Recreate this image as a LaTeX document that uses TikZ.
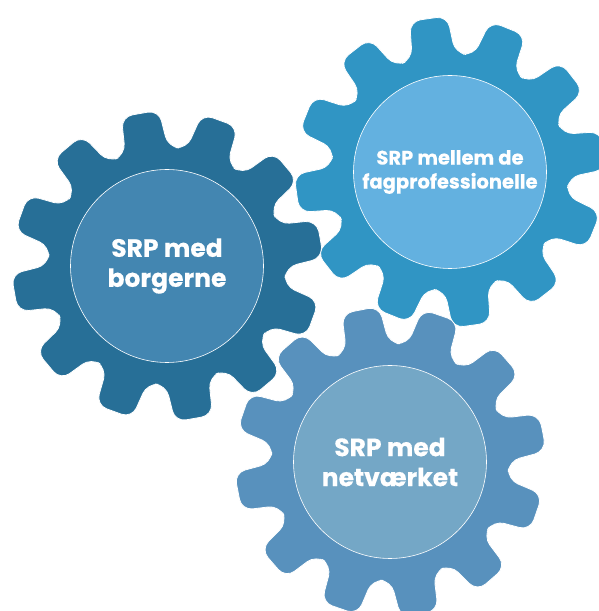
\documentclass[tikz,border=0pt]{standalone}
\usepackage{fontspec}
\setmainfont{Poppins}[BoldFeatures={FakeBold=0.4}]
\usetikzlibrary{positioning}
\definecolor{gearborger}{RGB}{39,111,151}
\definecolor{coreborger}{RGB}{67,134,177}
\definecolor{gearfag}{RGB}{48,149,196}
\definecolor{corefag}{RGB}{99,177,224}
\definecolor{gearnet}{RGB}{88,145,189}
\definecolor{corenet}{RGB}{116,167,198}

% gear with 12 teeth: centre x, centre y, tooth offset, colour
\newcommand{\gearwheel}[4]{%
  \fill[#4, draw=white, line width=0.8pt, rounded corners=11pt, shift={(#1,#2)}]
    (#3:156) \foreach \t in {0,...,11}{
      -- (#3+30*\t+7:156) -- (#3+30*\t+10.5:119) -- (#3+30*\t+19.5:119) -- (#3+30*\t+23:156)
    } -- cycle;}

\tikzset{
  core/.style={circle, draw=white, line width=0.6pt, minimum size=193pt, inner sep=0pt},
  gearlabel/.style={text=white, font=\bfseries, align=center}
}

\begin{document}
\begin{tikzpicture}[x=1pt, y=1pt]
  \useasboundingbox (0,0) rectangle (598,611);
  \gearwheel{167}{345}{10}{gearborger}
  \gearwheel{450}{439}{8}{gearfag}
  \gearwheel{390}{149}{11}{gearnet}
  \node[core, fill=coreborger] (borger) at (167,345) {};
  \node[core, fill=corefag] (fag) at (450,439) {};
  \node[core, fill=corenet] (net) at (390,149) {};
  \node[gearlabel, font=\fontsize{25}{30}\selectfont\bfseries] (borgertext) at (borger) {SRP med\\borgerne};
  \node[gearlabel, font=\fontsize{19.5}{24}\selectfont\bfseries] (fagtext) at (fag) {SRP mellem de\\fagprofessionelle};
  \node[gearlabel, font=\fontsize{25}{30}\selectfont\bfseries] (nettext) at (net) {SRP med\\netværket};
\end{tikzpicture}
\end{document}
